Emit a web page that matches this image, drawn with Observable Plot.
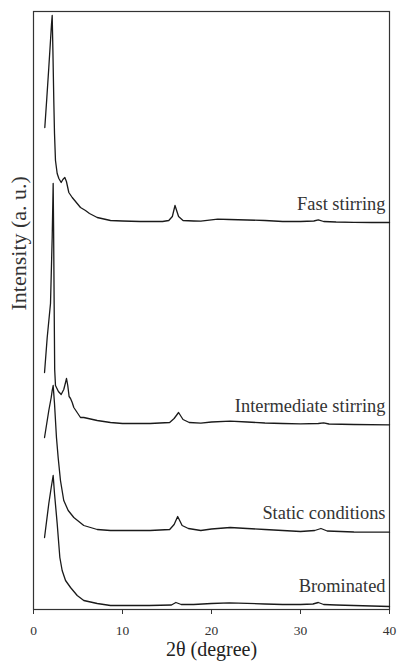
<!DOCTYPE html>
<html><head><meta charset="utf-8">
<script src="https://cdn.jsdelivr.net/npm/d3@7"></script>
<script src="https://cdn.jsdelivr.net/npm/@observablehq/plot@0.6"></script>
<style>body{margin:0;background:#fff} svg{display:block} svg text{font-family:'Liberation Serif','Times New Roman',serif}</style>
</head><body><div id="chart"></div>
<script>
// 2θ (degree) and stacked intensity (a. u.)
const fastX = [1.27, 1.5, 1.72, 1.91, 2.02, 2.10, 2.18, 2.28, 2.36, 2.47, 2.66, 2.85, 3.11, 3.3, 3.52, 3.7, 3.97, 4.35, 4.91, 5.28, 5.84, 6.29, 7.16, 8.65, 10, 12, 14.5, 15.2, 15.6, 15.9, 16.3, 16.8, 18, 18.8, 20.7, 22, 24, 26, 28, 30, 31.5, 32, 32.6, 34, 36, 38, 40];
const fastY = [482, 512, 542, 569, 585, 594, 559, 509, 476, 449, 436, 431, 427, 430, 432, 428, 417, 412, 406, 402, 399, 396, 392, 389, 388.5, 388, 388, 389, 393, 404, 393, 389, 388.5, 388.3, 390.3, 390, 389.5, 389, 388, 388, 388.5, 389.7, 388, 387.5, 387.2, 387, 387];

const intX = [1.24, 1.54, 1.91, 2.10, 2.21, 2.26, 2.32, 2.38, 2.47, 2.8, 3.11, 3.4, 3.6, 3.71, 3.85, 4.0, 4.16, 4.35, 4.53, 5.28, 5.65, 7.16, 8.65, 10, 13.1, 15.3, 15.8, 16.3, 16.8, 17.5, 18.8, 20, 22.1, 24, 26, 28, 30, 32, 32.6, 33.2, 36, 40];
const intY = [237, 272, 306, 372, 426, 380, 306, 240, 224, 218, 215, 220, 227, 231, 224, 213, 211, 207, 202, 192, 192, 189, 187, 186, 186, 187, 191, 197, 190, 187, 186.3, 187.5, 188.3, 187.5, 186.5, 186, 185.7, 186, 186.7, 185.5, 185, 184.7];

const statX = [1.24, 1.72, 1.99, 2.10, 2.21, 2.36, 2.58, 2.77, 3.03, 3.40, 3.9, 4.53, 5.65, 7.16, 8.65, 10, 13.1, 15.3, 15.8, 16.2, 16.7, 17.4, 18.8, 20, 22.1, 24, 26, 28, 30, 31.6, 32.3, 33, 36, 40];
const statY = [172, 199, 212, 219, 224, 206, 172, 152, 129, 109, 99, 92, 84, 80, 79, 79, 79, 80, 85, 93, 84, 81, 79, 80.5, 82, 81, 80, 79, 78, 79, 81, 78.5, 77.5, 77.3];

const bromX = [1.24, 1.72, 1.99, 2.10, 2.21, 2.36, 2.66, 2.96, 3.22, 3.60, 4.16, 4.91, 5.65, 7.16, 8.65, 10, 13, 15.5, 16.0, 16.6, 18, 20, 22, 24, 26, 28, 30, 31.4, 32, 32.6, 34, 36, 40];
const bromY = [72, 106, 122, 128, 134, 116, 86, 52, 39, 29, 22, 14, 9, 6, 4, 4, 4, 4.5, 7, 5, 5, 6, 6.7, 6.2, 5.5, 5, 5, 5.5, 7, 5, 4.5, 4, 3];

const seriesNames = ["Fast stirring", "Intermediate stirring", "Static conditions", "Brominated"];
const seriesXs = [fastX, intX, statX, bromX];
const seriesYs = [fastY, intY, statY, bromY];
const labelY = [405, 203, 96.6, 23.2];
const labelX = 40;
const xTicks = [0, 10, 20, 30, 40];
const xLabel = "2θ (degree)";
const yLabel = "Intensity (a. u.)";

const rows = seriesNames.flatMap((name, i) => seriesXs[i].map((x, j) => ({series: name, x, y: seriesYs[i][j]})));
const labels = seriesNames.map((name, i) => ({name, x: labelX, y: labelY[i]}));
const serif = "'Liberation Serif', 'Times New Roman', serif";

const chart = Plot.plot({
  width: 399, height: 665,
  marginTop: 11, marginBottom: 56, marginLeft: 33, marginRight: 10,
  x: {domain: [0, 40]},
  y: {domain: [0, 598], axis: null},
  style: {fontFamily: serif, background: "#fff", color: "#333"},
  marks: [
    Plot.frame({stroke: "#333", strokeWidth: 1.2}),
    Plot.axisX({ticks: xTicks, tickSize: 5, tickPadding: 11, fontSize: 13.5, fontFamily: serif, label: null, tickFormat: d => String(d), stroke: "#333"}),
    Plot.line(rows, {x: "x", y: "y", z: "series", stroke: "#1a1a1a", strokeWidth: 1.3}),
    Plot.text(labels, {x: "x", y: "y", text: "name", textAnchor: "end", dx: -4, fontSize: 18.4, fontFamily: serif, fill: "#333"}),
    Plot.text([xLabel], {frameAnchor: "bottom", text: d => d, dy: 46.5, fontSize: 20, fontFamily: serif, fill: "#222"}),
    Plot.text([yLabel], {frameAnchor: "left", text: d => d, rotate: -90, dx: -14.5, fontSize: 22, fontFamily: serif, fill: "#333"})
  ]
});
document.getElementById("chart").appendChild(chart);
</script>
</body></html>
